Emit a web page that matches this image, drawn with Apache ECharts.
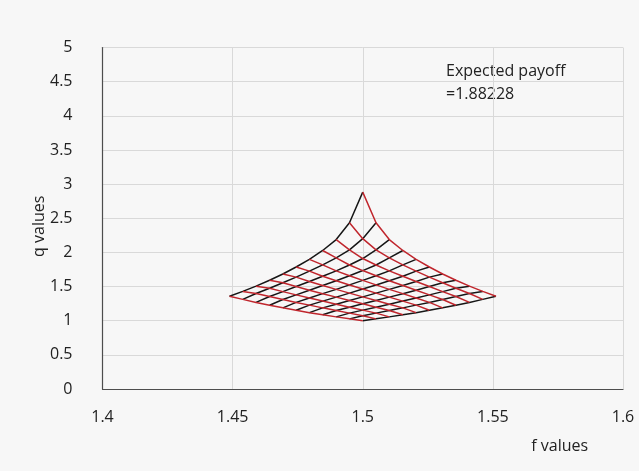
<!DOCTYPE html>
<html>
<head>
<meta charset="utf-8" />
<script src="https://cdn.jsdelivr.net/npm/echarts@6/dist/echarts.min.js"></script>
<style>
  html, body { margin: 0; padding: 0; background: #f7f7f7; }
  #mesh { width: 639px; height: 471px; }
</style>
</head>
<body>
<div id="mesh"></div>
<script>
const xTicks = [1.4, 1.45, 1.5, 1.55, 1.6];
const yTicks = [0, 0.5, 1, 1.5, 2, 2.5, 3, 3.5, 4, 4.5, 5];
const payoffText = ["Expected payoff", "=1.88228"];

// row = red line, column = black line
const fGrid = [
  [1.5, 1.4949, 1.4898, 1.4846, 1.4795, 1.4744, 1.4693, 1.4642, 1.459, 1.4539, 1.4488],
  [1.5051, 1.5, 1.4949, 1.4898, 1.4846, 1.4795, 1.4744, 1.4693, 1.4642, 1.459, 1.4539],
  [1.5102, 1.5051, 1.5, 1.4949, 1.4898, 1.4846, 1.4795, 1.4744, 1.4693, 1.4642, 1.459],
  [1.5154, 1.5102, 1.5051, 1.5, 1.4949, 1.4898, 1.4846, 1.4795, 1.4744, 1.4693, 1.4642],
  [1.5205, 1.5154, 1.5102, 1.5051, 1.5, 1.4949, 1.4898, 1.4846, 1.4795, 1.4744, 1.4693],
  [1.5256, 1.5205, 1.5154, 1.5102, 1.5051, 1.5, 1.4949, 1.4898, 1.4846, 1.4795, 1.4744],
  [1.5307, 1.5256, 1.5205, 1.5154, 1.5102, 1.5051, 1.5, 1.4949, 1.4898, 1.4846, 1.4795],
  [1.5358, 1.5307, 1.5256, 1.5205, 1.5154, 1.5102, 1.5051, 1.5, 1.4949, 1.4898, 1.4846],
  [1.541, 1.5358, 1.5307, 1.5256, 1.5205, 1.5154, 1.5102, 1.5051, 1.5, 1.4949, 1.4898],
  [1.5461, 1.541, 1.5358, 1.5307, 1.5256, 1.5205, 1.5154, 1.5102, 1.5051, 1.5, 1.4949],
  [1.5512, 1.5461, 1.541, 1.5358, 1.5307, 1.5256, 1.5205, 1.5154, 1.5102, 1.5051, 1.5]
];

const qGrid = [
  [1.0, 1.027, 1.056, 1.086, 1.118, 1.152, 1.188, 1.227, 1.268, 1.312, 1.359],
  [1.027, 1.073, 1.111, 1.149, 1.188, 1.228, 1.268, 1.311, 1.354, 1.398, 1.429],
  [1.056, 1.111, 1.155, 1.198, 1.242, 1.287, 1.332, 1.378, 1.426, 1.475, 1.506],
  [1.086, 1.149, 1.198, 1.247, 1.296, 1.345, 1.396, 1.447, 1.5, 1.556, 1.592],
  [1.118, 1.188, 1.242, 1.296, 1.349, 1.404, 1.459, 1.515, 1.573, 1.638, 1.684],
  [1.152, 1.228, 1.287, 1.345, 1.404, 1.464, 1.524, 1.586, 1.651, 1.726, 1.786],
  [1.188, 1.268, 1.332, 1.396, 1.459, 1.524, 1.59, 1.658, 1.73, 1.818, 1.898],
  [1.227, 1.311, 1.378, 1.447, 1.515, 1.586, 1.658, 1.734, 1.816, 1.92, 2.028],
  [1.268, 1.354, 1.426, 1.5, 1.573, 1.651, 1.73, 1.816, 1.91, 2.036, 2.188],
  [1.312, 1.398, 1.475, 1.556, 1.638, 1.726, 1.818, 1.92, 2.036, 2.201, 2.433],
  [1.359, 1.429, 1.506, 1.592, 1.684, 1.786, 1.898, 2.028, 2.188, 2.433, 2.882]
];

const RED = "#c0262d";
const BLACK = "#161616";
const FONT = "Open Sans";

const lineSeries = (points, color) => ({
  type: "line",
  data: points,
  symbol: "none",
  smooth: false,
  silent: true,
  lineStyle: { color, width: 1.5 },
  z: color === RED ? 3 : 2
});

const series = [];
// red lines: one per row
fGrid.forEach((row, r) => {
  series.push(lineSeries(row.map((f, c) => [f, qGrid[r][c]]), RED));
});
// black lines: one per column
fGrid[0].forEach((_, c) => {
  series.push(lineSeries(fGrid.map((row, r) => [row[c], qGrid[r][c]]), BLACK));
});

const option = {
  animation: false,
  backgroundColor: "#f7f7f7",
  textStyle: { fontFamily: FONT },
  grid: { left: 102.5, right: 16, top: 47.5, bottom: 82 },
  xAxis: {
    type: "value",
    min: xTicks[0],
    max: xTicks[xTicks.length - 1],
    interval: 0.05,
    name: "f values",
    nameLocation: "middle",
    nameGap: 49,
    nameMoveOverlap: false,
    nameTextStyle: { fontFamily: FONT, fontSize: 16, color: "#222", padding: [0, 0, 0, 394] },
    axisLine: { lineStyle: { color: "#4d4d4d", width: 1.2 } },
    axisTick: { show: false },
    axisLabel: { fontFamily: FONT, fontSize: 16, color: "#222", margin: 20 },
    splitLine: { lineStyle: { color: "#d9d9d9" } }
  },
  yAxis: {
    type: "value",
    min: yTicks[0],
    max: yTicks[yTicks.length - 1],
    interval: 0.5,
    name: "q values",
    nameLocation: "middle",
    nameGap: 55,
    nameMoveOverlap: false,
    nameTextStyle: { fontFamily: FONT, fontSize: 16, color: "#222", padding: [0, 16, 0, 0] },
    axisLine: { show: true, lineStyle: { color: "#4d4d4d", width: 1.2 } },
    axisTick: { show: false },
    axisLabel: { fontFamily: FONT, fontSize: 16, color: "#222", margin: 30 },
    splitLine: { lineStyle: { color: "#d9d9d9" } }
  },
  graphic: [
    {
      type: "text",
      left: 446,
      top: 60,
      style: {
        text: payoffText.join("\n"),
        font: "16px 'Open Sans'",
        fill: "#222",
        lineHeight: 23
      }
    }
  ],
  series
};

const myChart = echarts.init(document.getElementById("mesh"));
myChart.setOption(option);
</script>
</body>
</html>
